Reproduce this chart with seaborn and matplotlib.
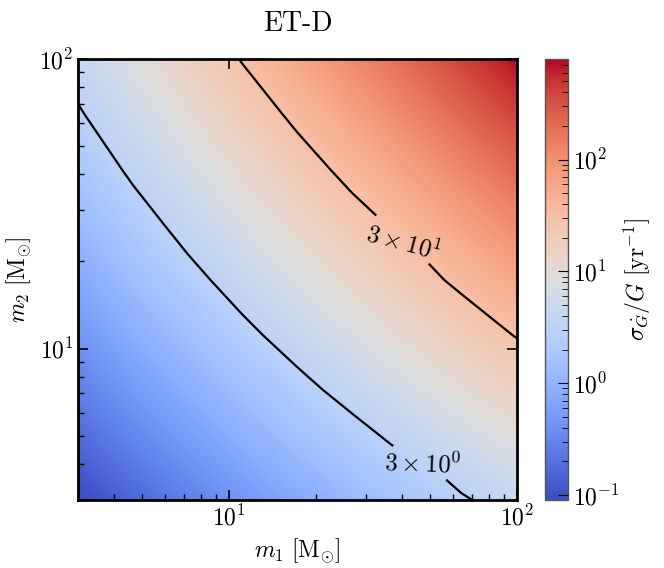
import numpy as np
import matplotlib
matplotlib.use("Agg")
import matplotlib.pyplot as plt
from matplotlib.colors import LogNorm, Normalize
from matplotlib.ticker import NullFormatter
import seaborn as sns

# grid of component masses (M_sun), roughly even in log space
m1_grid = [3, 4.65, 7.2, 11.15, 17.26, 26.74, 41.41, 64.14, 100]
m2_grid = [3, 4.65, 7.2, 11.15, 17.26, 26.74, 41.41, 64.14, 100]

# log10 of sigma_Gdot/G [1/yr], rows follow m2, columns follow m1
log_sigma = [
    [-1.045, -0.798, -0.564, -0.342, -0.131, 0.071, 0.263, 0.448, 0.628],
    [-0.798, -0.549, -0.311, -0.084, 0.133, 0.341, 0.541, 0.733, 0.923],
    [-0.564, -0.311, -0.069, 0.164, 0.387, 0.603, 0.811, 1.013, 1.213],
    [-0.342, -0.084, 0.164, 0.403, 0.634, 0.858, 1.075, 1.288, 1.499],
    [-0.131, 0.133, 0.387, 0.634, 0.873, 1.106, 1.334, 1.558, 1.781],
    [0.071, 0.341, 0.603, 0.858, 1.106, 1.350, 1.589, 1.824, 2.061],
    [0.263, 0.541, 0.811, 1.075, 1.334, 1.589, 1.840, 2.088, 2.339],
    [0.448, 0.733, 1.013, 1.288, 1.558, 1.824, 2.088, 2.351, 2.617],
    [0.628, 0.923, 1.213, 1.499, 1.781, 2.061, 2.339, 2.617, 2.900],
]

contour_levels = [3, 30]
contour_labels = [r"$3\times10^{0}$", r"$3\times10^{1}$"]
label_spots = [(47, 3.9), (40, 22.6)]
label_rotation = [-2, -15]
sigma_min, sigma_max = 10 ** -1.045, 10 ** 2.9

sns.set_style("ticks")
plt.rcParams["mathtext.fontset"] = "cm"
plt.rcParams["font.family"] = ["cmr10", "DejaVu Serif"]
plt.rcParams["axes.formatter.use_mathtext"] = True
plt.rcParams["text.color"] = "black"
plt.rcParams["axes.labelcolor"] = "black"
plt.rcParams["xtick.color"] = "black"
plt.rcParams["ytick.color"] = "black"
plt.rcParams["axes.edgecolor"] = "black"
plt.rcParams["axes.axisbelow"] = False

cmap = sns.color_palette("coolwarm", as_cmap=True)

M1, M2 = np.meshgrid(m1_grid, m2_grid)
Z = np.array(log_sigma)

fig = plt.figure(figsize=(6.64, 5.68), dpi=100)
ax = fig.add_axes([0.1175, 0.1197, 0.6611, 0.7764])
cax = fig.add_axes([0.8208, 0.1197, 0.0346, 0.7764])

lo, hi = np.log10(sigma_min), np.log10(sigma_max)
cf = ax.contourf(M1, M2, Z, levels=np.linspace(lo, hi, 256), cmap=cmap,
                 norm=Normalize(lo, hi), antialiased=False)

cs = ax.contour(M1, M2, Z, levels=np.log10(contour_levels), colors="k", linewidths=1.6)
fmt = {lev: lab for lev, lab in zip(cs.levels, contour_labels)}
texts = ax.clabel(cs, fmt=fmt, inline=True, fontsize=18, manual=label_spots, inline_spacing=6)
for t in texts:
    for lab, rot in zip(contour_labels, label_rotation):
        if t.get_text() == lab:
            t.set_rotation(rot)

ax.set_xscale("log")
ax.set_yscale("log")
ax.set_xlim(3, 100)
ax.set_ylim(3, 100)
ax.set_axisbelow(False)
ax.xaxis.set_minor_formatter(NullFormatter())
ax.yaxis.set_minor_formatter(NullFormatter())
ax.tick_params(which="both", direction="in", top=True, right=True, labelsize=17)
ax.tick_params(which="major", length=7, width=1.2)
ax.tick_params(which="minor", length=4, width=1.0, top=False, right=False)
for sp in ax.spines.values():
    sp.set_linewidth(2)
    sp.set_edgecolor("black")

ax.set_xlabel(r"$m_1\ [\mathrm{M}_{\odot}]$", fontsize=17, labelpad=4)
ax.set_ylabel(r"$m_2\ [\mathrm{M}_{\odot}]$", fontsize=17, labelpad=4)
ax.set_title("ET-D", fontsize=20, pad=20, family=["cmr10", "DejaVu Serif"])

sm = plt.cm.ScalarMappable(norm=LogNorm(sigma_min, sigma_max), cmap=cmap)
cbar = fig.colorbar(sm, cax=cax)
cbar.outline.set_edgecolor("#555555")
cbar.outline.set_linewidth(1.0)
cax.set_axisbelow(False)
cbar.ax.tick_params(which="both", direction="in", labelsize=17)
cbar.ax.tick_params(which="major", length=7)
cbar.ax.tick_params(which="minor", length=4)
cbar.ax.yaxis.set_minor_formatter(NullFormatter())
cbar.set_label(r"$\sigma_{\dot{G}}/G\ [\mathrm{yr}^{-1}]$", fontsize=17, labelpad=2)

fig.savefig("out.png", dpi=100)
